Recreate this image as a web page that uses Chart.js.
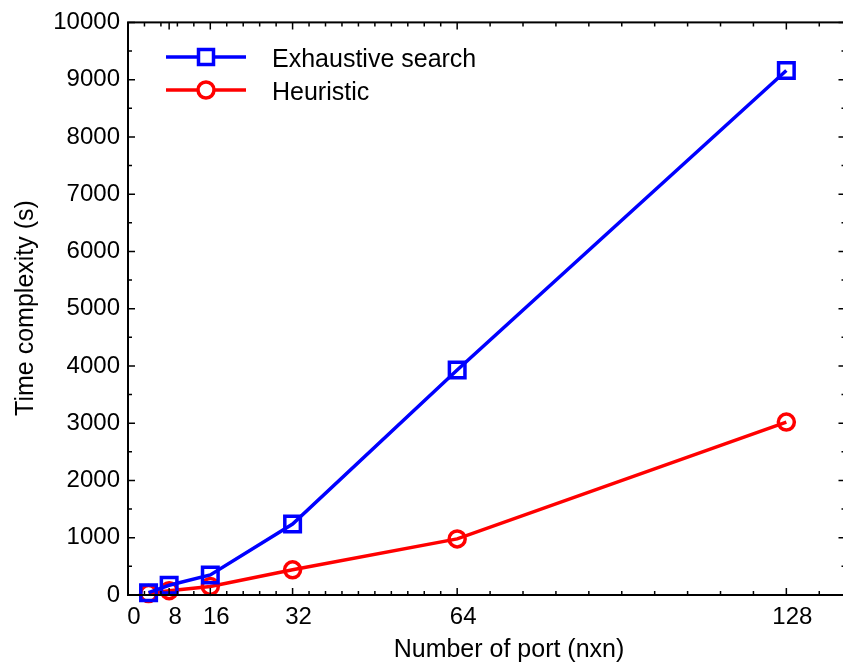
<!DOCTYPE html>
<html>
<head>
<meta charset="utf-8">
<script src="https://cdn.jsdelivr.net/npm/chart.js@4/dist/chart.umd.min.js"></script>
<style>
  html, body { margin: 0; padding: 0; background: #fff; overflow: hidden; }
  #wrap { width: 860px; height: 666px; }
</style>
</head>
<body>
<div id="wrap"><canvas id="chart" width="860" height="666"></canvas></div>
<script>
// values
const ports = [4, 8, 16, 32, 64, 128];
const exhaustive = [40, 170, 350, 1240, 3930, 9160];
const heuristic = [25, 75, 150, 440, 980, 3020];
const xTickValues = [0, 8, 16, 32, 64, 128];
const seriesNames = ['Exhaustive search', 'Heuristic'];
const seriesColors = ['#0000ff', '#ff0000'];

const FONT = '"Liberation Sans", Arial, sans-serif';
const TICK_SIZE = 24;
const TEXT_SIZE = 25;

function toPoints(values) {
  return ports.map((p, i) => ({x: p, y: values[i]}));
}

// minor ticks on x: 3.2 apart up to 64, then 6.4 apart
function xMinorTicks(max) {
  let out = [];
  for (let i = 0; i * 3.2 <= 64.001; i++) out.push(i * 3.2);
  for (let v = 64 + 6.4; v <= max; v += 6.4) out.push(v);
  return out;
}

const frame = {
  id: 'frame',
  afterDatasetsDraw(chart) {
    const ctx = chart.ctx;
    const a = chart.chartArea;
    const xs = chart.scales.x;
    const ys = chart.scales.y;
    ctx.save();
    ctx.strokeStyle = '#000';
    ctx.lineWidth = 2;
    ctx.strokeRect(a.left, a.top, a.right - a.left, a.bottom - a.top);

    ctx.lineWidth = 1.5;
    ctx.beginPath();
    const tick = (px, len, vertical) => {
      if (vertical) {
        ctx.moveTo(px, a.bottom); ctx.lineTo(px, a.bottom - len);
        ctx.moveTo(px, a.top); ctx.lineTo(px, a.top + len);
      } else {
        ctx.moveTo(a.left, px); ctx.lineTo(a.left + len, px);
        ctx.moveTo(a.right, px); ctx.lineTo(a.right - len, px);
      }
    };
    xMinorTicks(xs.max).forEach(v => tick(xs.getPixelForValue(v), 4, true));
    xTickValues.forEach(v => tick(xs.getPixelForValue(v), 7, true));
    for (let v = ys.min; v <= ys.max; v += 500) {
      tick(ys.getPixelForValue(v), v % 1000 === 0 ? 7 : 4, false);
    }
    ctx.stroke();

    // legend
    ctx.font = TEXT_SIZE + 'px ' + FONT;
    ctx.textBaseline = 'middle';
    ctx.fillStyle = '#000';
    chart.data.datasets.forEach((ds, i) => {
      const y = 57 + i * 33;
      ctx.strokeStyle = ds.borderColor;
      ctx.lineWidth = 3.5;
      ctx.beginPath();
      ctx.moveTo(166, y); ctx.lineTo(246, y);
      ctx.stroke();
      ctx.beginPath();
      if (ds.pointStyle === 'rect') {
        ctx.rect(206 - 7.5, y - 7.5, 15, 15);
      } else {
        ctx.arc(206, y, 8, 0, Math.PI * 2);
      }
      ctx.fillStyle = '#fff';
      ctx.fill();
      ctx.stroke();
      ctx.fillStyle = '#000';
      ctx.fillText(ds.label, 272, y + 3);
    });

    // axis titles
    ctx.textAlign = 'center';
    ctx.fillText('Number of port (nxn)', 509, 650);
    ctx.translate(26, 308);
    ctx.rotate(-Math.PI / 2);
    ctx.fillText('Time complexity (s)', 0, 0);
    ctx.restore();
  }
};

new Chart(document.getElementById('chart'), {
  type: 'line',
  data: {
    datasets: [
      {
        label: seriesNames[0],
        data: toPoints(exhaustive),
        borderColor: seriesColors[0],
        backgroundColor: 'rgba(0,0,0,0)',
        borderWidth: 3.5,
        pointStyle: 'rect',
        pointRadius: 11,
        pointBorderWidth: 3.5,
        pointBackgroundColor: 'rgba(0,0,0,0)'
      },
      {
        label: seriesNames[1],
        data: toPoints(heuristic),
        borderColor: seriesColors[1],
        backgroundColor: 'rgba(0,0,0,0)',
        borderWidth: 3.5,
        pointStyle: 'circle',
        pointRadius: 8,
        pointBorderWidth: 3.5,
        pointBackgroundColor: 'rgba(0,0,0,0)'
      }
    ]
  },
  options: {
    responsive: false,
    animation: false,
    clip: false,
    layout: {padding: {top: 19, right: 13, left: 0, bottom: 0}},
    plugins: {legend: {display: false}, tooltip: {enabled: false}},
    scales: {
      x: {
        type: 'linear',
        min: 0,
        max: 139.5,
        grid: {display: false, drawTicks: false},
        border: {display: false},
        afterBuildTicks: (scale) => {
          scale.ticks = xTickValues.map(v => ({value: v}));
        },
        afterFit: (scale) => { scale.height = 71; },
        ticks: {
          color: '#000',
          font: {family: FONT, size: TICK_SIZE},
          padding: 8,
          labelOffset: 6,
          maxRotation: 0,
          autoSkip: false,
          callback: (v) => String(v)
        }
      },
      y: {
        min: 0,
        max: 10000,
        grid: {display: false, drawTicks: false},
        border: {display: false},
        afterFit: (scale) => { scale.width = 128; },
        ticks: {
          stepSize: 1000,
          color: '#000',
          font: {family: FONT, size: TICK_SIZE},
          padding: 8,
          callback: (v) => String(v)
        }
      }
    }
  },
  plugins: [frame]
});
</script>
</body>
</html>
